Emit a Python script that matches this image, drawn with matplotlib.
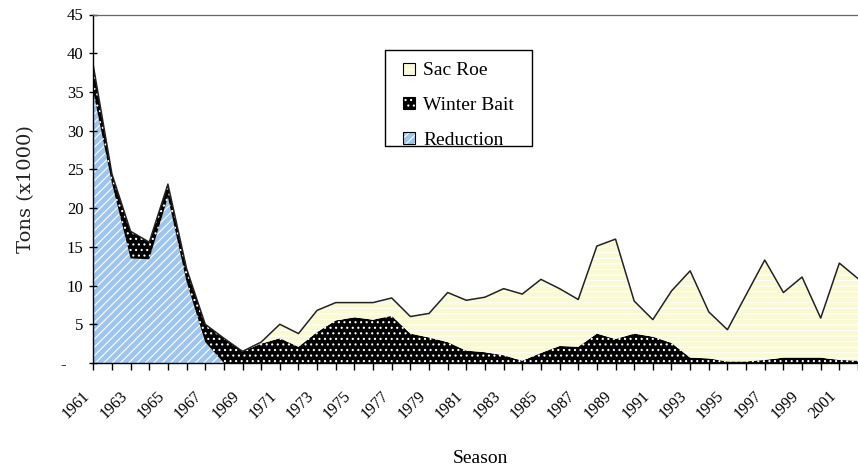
import numpy as np
import matplotlib
matplotlib.use("Agg")
import matplotlib.pyplot as plt
from matplotlib.patches import Patch, Rectangle

plt.rcParams['font.family'] = ['Liberation Serif', 'DejaVu Serif']
plt.rcParams['hatch.linewidth'] = 0.8

years = list(range(1961, 2003))
reduction = [35.0, 23.2, 13.5, 13.4, 21.4, 10.5, 2.7, 0.0, 0.0, 0.0,
             0.0, 0.0, 0.0, 0.0, 0.0, 0.0, 0.0, 0.0, 0.0, 0.0,
             0.0, 0.0, 0.0, 0.0, 0.0, 0.0, 0.0, 0.0, 0.0, 0.0,
             0.0, 0.0, 0.0, 0.0, 0.0, 0.0, 0.0, 0.0, 0.0, 0.0,
             0.0, 0.0]
winter_bait = [3.4, 1.2, 3.5, 2.2, 1.7, 1.7, 2.3, 3.2, 1.5, 2.5,
               3.2, 2.1, 4.0, 5.5, 5.9, 5.6, 6.1, 3.8, 3.3, 2.7,
               1.6, 1.4, 1.0, 0.3, 1.3, 2.2, 2.1, 3.8, 3.1, 3.8,
               3.4, 2.6, 0.7, 0.6, 0.2, 0.2, 0.4, 0.7, 0.7, 0.7,
               0.4, 0.3]
sac_roe = [0.0, 0.0, 0.0, 0.0, 0.0, 0.0, 0.0, 0.0, 0.0, 0.2,
           1.8, 1.7, 2.8, 2.3, 1.9, 2.2, 2.3, 2.2, 3.1, 6.4,
           6.5, 7.1, 8.6, 8.6, 9.5, 7.4, 6.1, 11.3, 12.9, 4.2,
           2.2, 6.7, 11.2, 6.0, 4.1, 8.6, 12.9, 8.4, 10.4, 5.1,
           12.5, 10.6]

y_ticks = [0, 5, 10, 15, 20, 25, 30, 35, 40, 45]
y_tick_labels = ["-    ", "5", "10", "15", "20", "25", "30", "35", "40", "45"]
x_tick_labels = [str(y) if (y - 1961) % 2 == 0 else "" for y in years]
legend_labels = ["Sac Roe", "Winter Bait", "Reduction"]

yrs = np.array(years, dtype=float)
r = np.array(reduction)
w = np.array(winter_bait)
s = np.array(sac_roe)
b1 = r
b2 = r + w
top = b2 + s

W, H = 858, 468
fig = plt.figure(figsize=(W / 100, H / 100), dpi=100)
ax = fig.add_axes([93.3 / W, 1 - 363 / H, 1 - 93.3 / W, (363 - 14.5) / H])

blue = '#9ec5ee'
yellow = '#f9f9d2'

ax.fill_between(yrs, 0, b1, facecolor=blue, edgecolor='white', hatch='////', linewidth=0)
ax.fill_between(yrs, b1, b2, facecolor='black', edgecolor='white', hatch='...', linewidth=0)
ax.fill_between(yrs, b2, top, facecolor=yellow, edgecolor='white', hatch='---', linewidth=0)
ax.plot(yrs, top, color='#222222', linewidth=1.1)

ax.set_xlim(1961, 2001.6)
ax.set_ylim(0, 45)
ax.set_xticks(years)
ax.set_xticklabels(x_tick_labels, rotation=45, ha='right', va='top', fontsize=11.5)
ax.set_yticks(y_ticks)
ax.set_yticklabels(y_tick_labels, fontsize=12)
ax.tick_params(axis='x', direction='out', length=5, width=1, pad=13)
ax.tick_params(axis='y', direction='inout', length=6, width=1, pad=4)

ax.spines['right'].set_visible(False)
ax.spines['top'].set_color('#666666')
ax.spines['top'].set_linewidth(0.9)
ax.spines['left'].set_linewidth(1.0)
ax.spines['bottom'].set_linewidth(1.0)

ax.set_ylabel("Tons (x1000)", fontsize=14, family=['DejaVu Serif'], color='#222222')
ax.yaxis.set_label_coords(-0.076, 0.5)
ax.set_xlabel("Season", fontsize=14)
ax.xaxis.set_label_coords(0.506, -0.25)


class SquareHandler:
    def __init__(self, fc, hatch):
        self.fc = fc
        self.hatch = hatch

    def legend_artist(self, legend, orig_handle, fontsize, handlebox):
        x0, y0 = handlebox.xdescent, handlebox.ydescent
        width, height = handlebox.width, handlebox.height
        side = 0.62 * fontsize
        xs = x0 + width - side
        ys = y0 + (height - side) / 2
        fill = Rectangle((xs, ys), side, side, facecolor=self.fc, edgecolor='white',
                         hatch=self.hatch, linewidth=0, transform=handlebox.get_transform())
        outline = Rectangle((xs, ys), side, side, facecolor='none', edgecolor='black',
                            linewidth=0.8, transform=handlebox.get_transform())
        handlebox.add_artist(fill)
        handlebox.add_artist(outline)
        return fill


h_sr = Patch(label=legend_labels[0])
h_wb = Patch(label=legend_labels[1])
h_rd = Patch(label=legend_labels[2])
leg = fig.legend([h_sr, h_wb, h_rd], legend_labels, loc='upper left',
                 bbox_to_anchor=(385 / W, 1 - 53 / H),
                 handler_map={h_sr: SquareHandler(yellow, '---'),
                              h_wb: SquareHandler('black', '...'),
                              h_rd: SquareHandler(blue, '////')},
                 fontsize=14, frameon=False,
                 borderpad=0.45, borderaxespad=0, handlelength=1.09,
                 handleheight=0.7, handletextpad=0.41, labelspacing=0.88)

frame = Rectangle((385 / W, 1 - 146 / H), (532 - 385) / W, (146 - 50) / H,
                  transform=fig.transFigure, facecolor='white', edgecolor='black',
                  linewidth=1.0, zorder=1)
fig.patches.append(frame)
leg.set_zorder(5)

fig.savefig("out.png", dpi=100, facecolor='white')
